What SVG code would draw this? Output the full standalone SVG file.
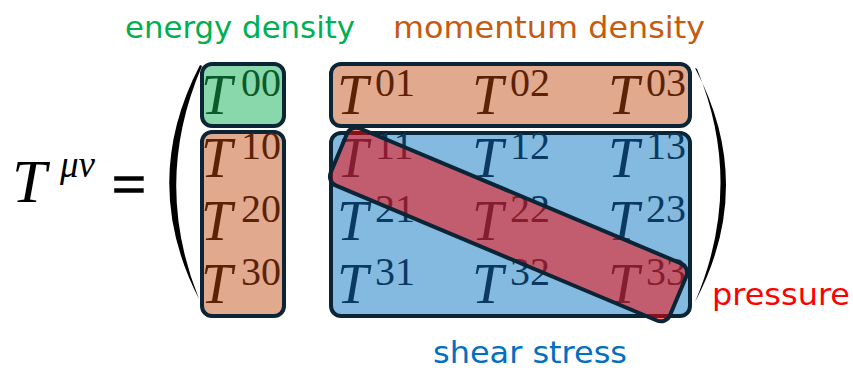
<svg xmlns="http://www.w3.org/2000/svg" width="853" height="370" viewBox="0 0 853 370">
<style>
.box{stroke:#0b2536;stroke-width:4}
.m{font-family:"Liberation Serif","Times New Roman",serif;font-style:italic;font-size:56px}
.s{font-family:"Liberation Serif","Times New Roman",serif;font-size:40px}
.lab{font-family:"DejaVu Sans","Liberation Sans",sans-serif;font-size:30px}
.g{fill:#0a5a2a}.o{fill:#5c2206}.b{fill:#0a3a62}
</style>
<rect width="853" height="370" fill="#ffffff"/>
<g id="lhs">
<text x="12" y="202" font-family="Liberation Serif, serif" font-style="italic" font-size="62">T</text>
<text x="60" y="177" font-family="Liberation Serif, serif" font-style="italic" font-size="37">μν</text>
<text x="112" y="204" font-family="Liberation Serif, serif" font-size="60" stroke="#000" stroke-width="1.6">=</text>
</g>
<g id="parens" fill="#000">
<path d="M200,65 Q139,182 199,299 Q152,182 202,66 Z"/>
<path d="M695,68 Q757,185 695,302 Q745,185 697,69 Z"/>
</g>
<g id="energy">
<rect class="box" x="202" y="64" width="82" height="62" rx="10" fill="#89d8ab"/>
<text class="m g" x="201" y="114">T</text><text class="s g" x="241" y="96">00</text>
</g>
<g id="momentum-col">
<rect class="box" x="202" y="132" width="82" height="184" rx="10" fill="#e1a98e"/>
<text class="m o" x="201" y="177">T</text><text class="s o" x="241" y="159">10</text>
<text class="m o" x="201" y="240">T</text><text class="s o" x="241" y="222">20</text>
<text class="m o" x="201" y="303">T</text><text class="s o" x="241" y="285">30</text>
</g>
<g id="momentum-row">
<rect class="box" x="331" y="64" width="359" height="62" rx="10" fill="#e1a98e"/>
<text class="m o" x="337" y="114">T</text><text class="s o" x="375" y="96">01</text>
<text class="m o" x="472" y="114">T</text><text class="s o" x="510" y="96">02</text>
<text class="m o" x="608" y="114">T</text><text class="s o" x="646" y="96">03</text>
</g>
<g id="stress">
<rect class="box" x="331" y="133" width="359" height="183" rx="10" fill="#84bae0"/>
<text class="m b" x="337" y="177">T</text><text class="s b" x="375" y="159">11</text>
<text class="m b" x="472" y="177">T</text><text class="s b" x="510" y="159">12</text>
<text class="m b" x="608" y="177">T</text><text class="s b" x="646" y="159">13</text>
<text class="m b" x="337" y="240">T</text><text class="s b" x="375" y="222">21</text>
<text class="m b" x="472" y="240">T</text><text class="s b" x="510" y="222">22</text>
<text class="m b" x="608" y="240">T</text><text class="s b" x="646" y="222">23</text>
<text class="m b" x="337" y="303">T</text><text class="s b" x="375" y="285">31</text>
<text class="m b" x="472" y="303">T</text><text class="s b" x="510" y="285">32</text>
<text class="m b" x="608" y="303">T</text><text class="s b" x="646" y="285">33</text>
</g>
<g id="pressure-band">
<rect class="box" x="-184" y="-31" width="368" height="62" rx="10" fill="#ff0000" fill-opacity="0.5" transform="translate(508.5,224.5) rotate(22.8)"/>
</g>
<g id="labels">
<text class="lab" x="125" y="38" fill="#00b050" textLength="230" lengthAdjust="spacingAndGlyphs">energy density</text>
<text class="lab" x="393" y="38" fill="#c55a11" textLength="312" lengthAdjust="spacingAndGlyphs">momentum density</text>
<text class="lab" x="712" y="305" fill="#ff0000" textLength="138" lengthAdjust="spacingAndGlyphs">pressure</text>
<text class="lab" x="433" y="363" fill="#0070c0" textLength="194" lengthAdjust="spacingAndGlyphs">shear stress</text>
</g>
</svg>
